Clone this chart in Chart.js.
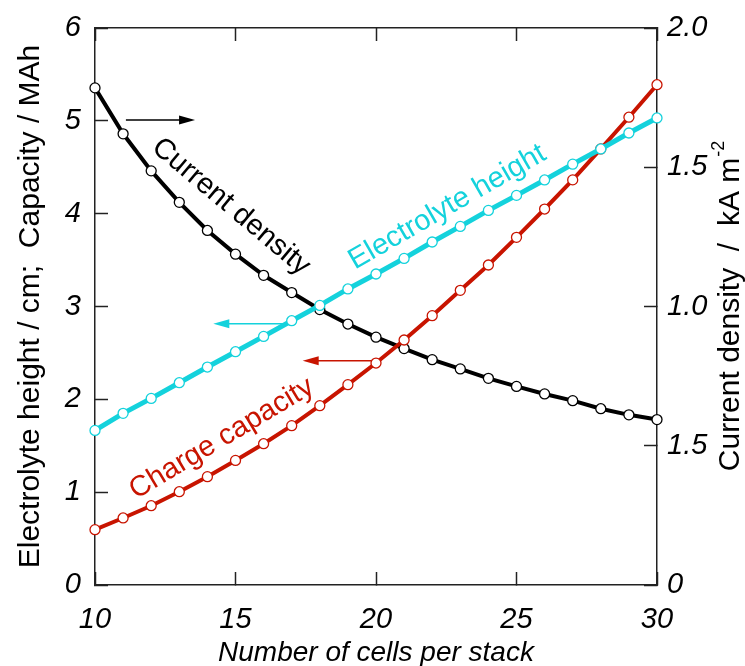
<!DOCTYPE html>
<html>
<head>
<meta charset="utf-8">
<script src="https://cdn.jsdelivr.net/npm/chart.js@4.4.1/dist/chart.umd.min.js"></script>
<style>
  html, body { margin: 0; padding: 0; background: #fff; }
  #wrap { width: 745px; height: 666px; position: relative; }
</style>
</head>
<body>
<div id="wrap"><canvas id="stackChart"></canvas></div>
<script>
// number of cells per stack
const cells = [10, 11, 12, 13, 14, 15, 16, 17, 18, 19, 20, 21, 22, 23, 24, 25, 26, 27, 28, 29, 30];

// left axis: electrolyte height / cm and charge capacity / MAh
const electrolyteHeight = [1.665, 1.849, 2.010, 2.179, 2.348, 2.513, 2.678, 2.847, 3.012, 3.189, 3.350,
                           3.518, 3.695, 3.863, 4.035, 4.197, 4.363, 4.533, 4.697, 4.869, 5.031];
const chargeCapacity = [0.596, 0.722, 0.854, 1.005, 1.167, 1.342, 1.522, 1.716, 1.932, 2.158, 2.391,
                        2.639, 2.901, 3.174, 3.447, 3.745, 4.050, 4.364, 4.697, 5.039, 5.389];

// right axis: current density / kA m-2
const currentDensity = [1.785, 1.620, 1.487, 1.374, 1.273, 1.188, 1.112, 1.050, 0.989, 0.937, 0.890,
                        0.849, 0.809, 0.776, 0.742, 0.713, 0.686, 0.662, 0.633, 0.611, 0.594];

// right axis tick labels, as printed on the figure
const rightTickLabels = ['0', '1.5', '1.0', '1.5', '2.0'];

const FONT = "'Liberation Sans', Arial, sans-serif";
const BLACK = '#000000';
const CYAN = '#14d2dc';
const RED = '#c81400';

// curve labels and arrows, placed in data units (x, left axis)
const curveLabels = [
  { text: 'Current density', x: 14.84, y: 4.075, angle: 40, color: BLACK },
  { text: 'Electrolyte height', x: 22.54, y: 4.07, angle: -30, color: CYAN },
  { text: 'Charge capacity', x: 14.51, y: 1.576, angle: -31, color: RED }
];
const arrows = [
  { from: 11.1, to: 13.56, y: 5.01, color: BLACK },
  { from: 16.82, to: 14.21, y: 2.815, color: CYAN },
  { from: 19.84, to: 17.39, y: 2.416, color: RED }
];

const notesPlugin = {
  id: 'notes',
  afterDraw(chart) {
    const { ctx, scales, chartArea } = chart;
    const sx = scales.x;
    const sy = scales.y;
    ctx.save();

    arrows.forEach(a => {
      const x1 = sx.getPixelForValue(a.from);
      const x2 = sx.getPixelForValue(a.to);
      const py = sy.getPixelForValue(a.y);
      const dir = Math.sign(x2 - x1);
      ctx.strokeStyle = a.color;
      ctx.lineWidth = 1.5;
      ctx.beginPath();
      ctx.moveTo(x1, py);
      ctx.lineTo(x2 - dir * 12, py);
      ctx.stroke();
      ctx.fillStyle = a.color;
      ctx.beginPath();
      ctx.moveTo(x2, py);
      ctx.lineTo(x2 - dir * 16, py - 4.5);
      ctx.lineTo(x2 - dir * 16, py + 4.5);
      ctx.closePath();
      ctx.fill();
    });

    curveLabels.forEach(l => {
      ctx.save();
      ctx.translate(sx.getPixelForValue(l.x), sy.getPixelForValue(l.y));
      ctx.rotate(l.angle * Math.PI / 180);
      ctx.font = '29px ' + FONT;
      ctx.fillStyle = l.color;
      ctx.textAlign = 'center';
      ctx.textBaseline = 'middle';
      ctx.fillText(l.text, 0, 0);
      ctx.restore();
    });

    // right axis title, reading bottom to top, with superscript
    const main = 'Current density  /  kA m';
    const sup = '-2';
    ctx.font = '30px ' + FONT;
    const mainW = ctx.measureText(main).width;
    ctx.font = '18px ' + FONT;
    const supW = ctx.measureText(sup).width;
    ctx.translate(731, (chartArea.top + chartArea.bottom) / 2);
    ctx.rotate(-Math.PI / 2);
    const start = -(mainW + supW) / 2;
    ctx.fillStyle = '#000';
    ctx.textAlign = 'left';
    ctx.textBaseline = 'middle';
    ctx.font = '30px ' + FONT;
    ctx.fillText(main, start, 0);
    ctx.font = '18px ' + FONT;
    ctx.fillText(sup, start + mainW + 1, -12);

    ctx.restore();
  }
};

const axisLine = { color: '#222', width: 1.5 };
const inwardTicks = { drawOnChartArea: false, tickLength: -13, tickColor: '#222', tickWidth: 1.5 };
const tickFont = { family: FONT, size: 29, style: 'italic' };

// fixed axis sizes so the plot box sits where it does in the figure
const fixWidth = w => scale => {
  scale.width = w;
  scale.paddingTop = 0;
  scale.paddingBottom = 0;
};

const ctx = document.getElementById('stackChart').getContext('2d');
new Chart(ctx, {
  type: 'line',
  data: {
    labels: cells,
    datasets: [
      {
        label: 'Electrolyte height',
        data: electrolyteHeight,
        yAxisID: 'y',
        borderColor: CYAN,
        borderWidth: 5,
        pointRadius: 5,
        pointBorderWidth: 1.3,
        pointBorderColor: CYAN,
        pointBackgroundColor: '#fff',
        clip: false,
        order: 1
      },
      {
        label: 'Charge capacity',
        data: chargeCapacity,
        yAxisID: 'y',
        borderColor: RED,
        borderWidth: 4,
        pointRadius: 5,
        pointBorderWidth: 1.3,
        pointBorderColor: RED,
        pointBackgroundColor: '#fff',
        clip: false,
        order: 2
      },
      {
        label: 'Current density',
        data: currentDensity,
        yAxisID: 'y1',
        borderColor: BLACK,
        borderWidth: 4,
        pointRadius: 5,
        pointBorderWidth: 1.3,
        pointBorderColor: BLACK,
        pointBackgroundColor: '#fff',
        clip: false,
        order: 3
      }
    ]
  },
  options: {
    responsive: true,
    maintainAspectRatio: false,
    animation: false,
    events: [],
    layout: { padding: { top: 28, right: 0, bottom: 0, left: 0 } },
    plugins: {
      legend: { display: false },
      tooltip: { enabled: false }
    },
    scales: {
      x: {
        type: 'linear',
        position: 'bottom',
        min: 10,
        max: 30,
        ticks: { stepSize: 5, font: tickFont, color: '#000', padding: 31, maxRotation: 0 },
        grid: inwardTicks,
        border: axisLine,
        title: {
          display: true,
          text: 'Number of cells per stack',
          color: '#000',
          font: { family: FONT, size: 28, style: 'italic', lineHeight: 0.9 },
          padding: { top: 0, bottom: 0 }
        },
        afterFit(scale) { scale.height = 81; }
      },
      xTop: {
        type: 'linear',
        position: 'top',
        min: 10,
        max: 30,
        ticks: { stepSize: 5, display: false },
        grid: inwardTicks,
        border: axisLine,
        afterFit(scale) { scale.height = 0; }
      },
      y: {
        type: 'linear',
        position: 'left',
        min: 0,
        max: 6,
        ticks: { stepSize: 1, font: tickFont, color: '#000', padding: 27 },
        grid: inwardTicks,
        border: axisLine,
        title: {
          display: true,
          text: 'Electrolyte height / cm;  Capacity / MAh',
          color: '#000',
          font: { family: FONT, size: 30 },
          padding: { top: 13, bottom: 0 }
        },
        afterFit: fixWidth(95)
      },
      y1: {
        type: 'linear',
        position: 'right',
        min: 0,
        max: 2,
        ticks: {
          stepSize: 0.5,
          font: tickFont,
          color: '#000',
          padding: 23,
          callback: (value, index) => rightTickLabels[index]
        },
        grid: inwardTicks,
        border: axisLine,
        afterFit: fixWidth(88)
      }
    }
  },
  plugins: [notesPlugin]
});
</script>
</body>
</html>
